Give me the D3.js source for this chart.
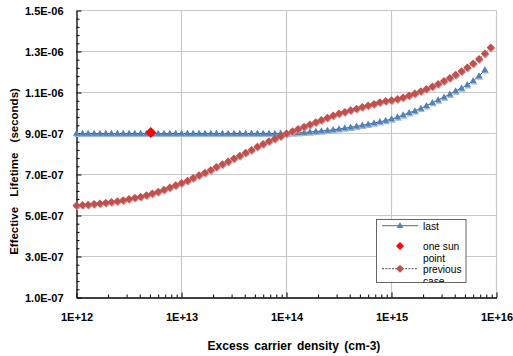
<!DOCTYPE html>
<html>
<head>
<meta charset="utf-8">
<script src="https://cdn.jsdelivr.net/npm/d3@7"></script>
<style>
  body { margin: 0; background: #fff; }
  svg { display: block; font-family: "Liberation Sans", Arial, sans-serif; }
</style>
</head>
<body>
<div id="chart"></div>
<script>
// excess carrier density (cm-3), one value per simulated point
const density = [
  1.00e12, 1.14e12, 1.29e12, 1.47e12, 1.67e12, 1.90e12, 2.15e12, 2.45e12, 2.78e12,
  3.16e12, 3.59e12, 4.08e12, 4.64e12, 5.27e12, 5.99e12, 6.81e12, 7.74e12, 8.80e12,
  1.00e13, 1.14e13, 1.29e13, 1.47e13, 1.67e13, 1.90e13, 2.15e13, 2.45e13, 2.78e13,
  3.16e13, 3.59e13, 4.08e13, 4.64e13, 5.27e13, 5.99e13, 6.81e13, 7.74e13, 8.80e13,
  1.00e14, 1.14e14, 1.29e14, 1.47e14, 1.67e14, 1.90e14, 2.15e14, 2.45e14, 2.78e14,
  3.16e14, 3.59e14, 4.08e14, 4.64e14, 5.27e14, 5.99e14, 6.81e14, 7.74e14, 8.80e14,
  1.00e15, 1.14e15, 1.29e15, 1.47e15, 1.67e15, 1.90e15, 2.15e15, 2.45e15, 2.78e15,
  3.16e15, 3.59e15, 4.08e15, 4.64e15, 5.27e15, 5.99e15, 6.81e15, 7.74e15, 8.80e15
];

// effective lifetime in microseconds
const lastLifetimeUs = [
  0.900, 0.900, 0.900, 0.900, 0.900, 0.900, 0.900, 0.900, 0.900,
  0.900, 0.900, 0.900, 0.900, 0.900, 0.900, 0.900, 0.900, 0.900,
  0.900, 0.900, 0.900, 0.900, 0.900, 0.900, 0.900, 0.900, 0.900,
  0.900, 0.900, 0.900, 0.900, 0.900, 0.900, 0.900, 0.900, 0.901,
  0.901, 0.902, 0.903, 0.905, 0.907, 0.910, 0.912, 0.915, 0.918,
  0.922, 0.926, 0.930, 0.935, 0.940, 0.945, 0.951, 0.957, 0.963,
  0.970, 0.980, 0.990, 1.001, 1.010, 1.022, 1.035, 1.050, 1.063,
  1.077, 1.091, 1.107, 1.121, 1.137, 1.157, 1.180, 1.210
];

const previousLifetimeUs = [
  0.549, 0.551, 0.553, 0.556, 0.559, 0.562, 0.566, 0.570, 0.575,
  0.580, 0.586, 0.592, 0.599, 0.607, 0.616, 0.626, 0.636, 0.647,
  0.658, 0.670, 0.683, 0.696, 0.709, 0.722, 0.736, 0.750, 0.764,
  0.778, 0.792, 0.806, 0.820, 0.835, 0.849, 0.862, 0.875, 0.887,
  0.900, 0.911, 0.922, 0.933, 0.944, 0.955, 0.966, 0.977, 0.988,
  0.997, 1.005, 1.013, 1.021, 1.029, 1.037, 1.044, 1.052, 1.058,
  1.062, 1.068, 1.076, 1.085, 1.095, 1.106, 1.117, 1.129, 1.142,
  1.156, 1.171, 1.187, 1.204, 1.222, 1.242, 1.264, 1.290, 1.320
];

const oneSunDensity = [5.1e12];
const oneSunLifetimeUs = [0.905];

const xTickValues = [1e12, 1e13, 1e14, 1e15, 1e16];
const xTickLabels = ['1E+12', '1E+13', '1E+14', '1E+15', '1E+16'];
const yTickValues = [0.1, 0.3, 0.5, 0.7, 0.9, 1.1, 1.3, 1.5];
const yTickLabels = ['1.0E-07', '3.0E-07', '5.0E-07', '7.0E-07', '9.0E-07', '1.1E-06', '1.3E-06', '1.5E-06'];

const blue = '#4f81bd';
const red = '#c0504d';
const sunRed = '#ff0000';
const gridColor = '#c8c8c8';

const width = 513, height = 356;
const plotLeft = 76.5, plotRight = 496.5, plotTop = 10.5, plotBottom = 297.5;

const svg = d3.select('#chart').append('svg')
  .attr('width', width)
  .attr('height', height);

svg.append('rect').attr('width', width).attr('height', height).attr('fill', '#fff');

const x = d3.scaleLog().domain([1e12, 1e16]).range([plotLeft, plotRight]);
const y = d3.scaleLinear().domain([0.1, 1.5]).range([plotBottom, plotTop]);

// grid
svg.append('g').selectAll('line')
  .data(yTickValues.slice(1))
  .enter().append('line')
  .attr('x1', plotLeft).attr('x2', plotRight)
  .attr('y1', d => y(d)).attr('y2', d => y(d))
  .attr('stroke', gridColor).attr('stroke-width', 1.2);

svg.append('g').selectAll('line')
  .data(xTickValues.slice(1))
  .enter().append('line')
  .attr('y1', plotTop).attr('y2', plotBottom)
  .attr('x1', d => x(d)).attr('x2', d => x(d))
  .attr('stroke', gridColor).attr('stroke-width', 1.2);

// minor ticks
const xMinor = [];
[1e12, 1e13, 1e14, 1e15].forEach(dec => { for (let m = 2; m <= 9; m++) xMinor.push(dec * m); });
const yMinor = [];
yTickValues.slice(0, -1).forEach(v => { for (let j = 1; j <= 4; j++) yMinor.push(v + j * 0.04); });

svg.append('g')
  .attr('transform', `translate(0,${plotBottom})`)
  .call(d3.axisBottom(x).tickValues(xMinor).tickSizeInner(-3).tickSizeOuter(0).tickFormat(''))
  .call(g => g.select('.domain').remove());

svg.append('g')
  .attr('transform', `translate(${plotLeft},0)`)
  .call(d3.axisLeft(y).tickValues(yMinor).tickSizeInner(-3).tickSizeOuter(0).tickFormat(''))
  .call(g => g.select('.domain').remove());

// main axes
const xAxis = svg.append('g')
  .attr('transform', `translate(0,${plotBottom})`)
  .call(d3.axisBottom(x).tickValues(xTickValues).tickFormat((d, i) => xTickLabels[i])
    .tickSizeInner(-5).tickSizeOuter(0).tickPadding(16));

const yAxis = svg.append('g')
  .attr('transform', `translate(${plotLeft},0)`)
  .call(d3.axisLeft(y).tickValues(yTickValues).tickFormat((d, i) => yTickLabels[i])
    .tickSizeInner(-5).tickSizeOuter(0).tickPadding(13));

[xAxis, yAxis].forEach(a => {
  a.selectAll('text').attr('font-size', 11).attr('font-weight', 'bold')
    .attr('font-family', '"Liberation Sans", Arial, sans-serif').attr('fill', '#000');
  a.select('.domain').attr('stroke', '#000').attr('stroke-width', 1.3);
  a.selectAll('.tick line').attr('stroke', '#000');
});

// axis titles
svg.append('text')
  .attr('x', 294).attr('y', 349.5)
  .attr('text-anchor', 'middle')
  .attr('font-size', 12).attr('font-weight', 'bold')
  .style('word-spacing', '2px')
  .text('Excess carrier density (cm-3)');

svg.append('text')
  .attr('transform', 'translate(17.5,171.5) rotate(-90)')
  .attr('text-anchor', 'middle')
  .attr('font-size', 11.5).attr('font-weight', 'bold')
  .style('word-spacing', '7px')
  .text('Effective Lifetime (seconds)');

// markers
const triangle = 'M0,-3.8L3.4,2.2L-3.4,2.2Z';
const diamond = 'M0,-4L4,0L0,4L-4,0Z';
const bigDiamond = 'M0,-5.5L5.5,0L0,5.5L-5.5,0Z';

const line = d3.line().x(d => x(d[0])).y(d => y(d[1]));

const lastData = lastLifetimeUs.map((v, i) => [density[i], v]);
const previousData = previousLifetimeUs.map((v, i) => [density[i], v]);
const sunData = oneSunLifetimeUs.map((v, i) => [oneSunDensity[i], v]);

// last
svg.append('path').datum(lastData)
  .attr('d', line).attr('fill', 'none')
  .attr('stroke', '#222').attr('stroke-width', 0.8);

const lastG = svg.append('g');
lastG.selectAll('.sh').data(lastData).enter().append('path')
  .attr('d', triangle).attr('fill', '#9bb7da')
  .attr('transform', d => `translate(${x(d[0]) + 0.8},${y(d[1]) + 1.4})`);
lastG.selectAll('.mk').data(lastData).enter().append('path')
  .attr('d', triangle).attr('fill', blue)
  .attr('transform', d => `translate(${x(d[0])},${y(d[1])})`);

// one sun point
svg.append('g').selectAll('path').data(sunData).enter().append('path')
  .attr('d', bigDiamond).attr('fill', sunRed)
  .attr('transform', d => `translate(${x(d[0])},${y(d[1])})`);

// previous case
svg.append('path').datum(previousData)
  .attr('d', line).attr('fill', 'none')
  .attr('stroke', '#222').attr('stroke-width', 0.8)
  .attr('stroke-dasharray', '1.5,1.5');

const prevG = svg.append('g');
prevG.selectAll('.sh').data(previousData).enter().append('path')
  .attr('d', diamond).attr('fill', '#d99a98')
  .attr('transform', d => `translate(${x(d[0]) + 0.7},${y(d[1]) + 1})`);
prevG.selectAll('.mk').data(previousData).enter().append('path')
  .attr('d', diamond).attr('fill', red)
  .attr('transform', d => `translate(${x(d[0])},${y(d[1])})`);

// legend
const lx = 376.5, ly = 219.5, lw = 89.5, lh = 63;
svg.append('clipPath').attr('id', 'legclip')
  .append('rect').attr('x', lx).attr('y', ly).attr('width', lw).attr('height', lh);

const legend = svg.append('g');
legend.append('rect')
  .attr('x', lx).attr('y', ly).attr('width', lw).attr('height', lh)
  .attr('fill', '#fff').attr('stroke', '#404040').attr('stroke-width', 0.8);

const legendItems = [
  { lines: ['last'], cy: 225.7, mark: triangle, color: blue, stroke: 'solid' },
  { lines: ['one sun', 'point'], cy: 246, mark: diamond, color: sunRed, stroke: null },
  { lines: ['previous', 'case'], cy: 268.7, mark: diamond, color: red, stroke: 'dash' }
];

const lg = legend.append('g').attr('clip-path', 'url(#legclip)');
legendItems.forEach(it => {
  if (it.stroke) {
    lg.append('line')
      .attr('x1', 382).attr('x2', 418).attr('y1', it.cy).attr('y2', it.cy)
      .attr('stroke', it.stroke === 'dash' ? '#333' : '#555').attr('stroke-width', 0.9)
      .attr('stroke-dasharray', it.stroke === 'dash' ? '2,1.3' : null);
  }
  lg.append('path').attr('d', it.mark).attr('fill', it.color)
    .attr('transform', `translate(400,${it.cy})`);
  it.lines.forEach((t, j) => {
    lg.append('text')
      .attr('x', 423).attr('y', it.cy + 3.8 + j * 12.4)
      .attr('font-size', 10.2).attr('fill', '#000')
      .text(t);
  });
});
</script>
</body>
</html>
